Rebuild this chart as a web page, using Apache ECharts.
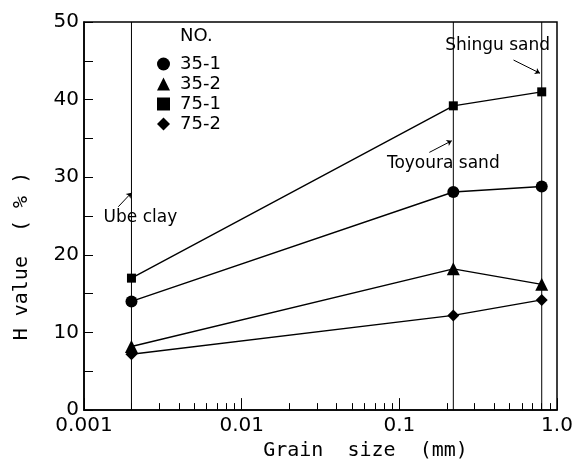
<!DOCTYPE html>
<html><head><meta charset="utf-8">
<script src="https://cdn.jsdelivr.net/npm/echarts@6/dist/echarts.min.js"></script>
<style>html,body{margin:0;padding:0;background:#fff}#c{width:577px;height:466px}</style>
</head><body><div id="c"></div>
<script>
const grainSizes = [0.002, 0.22, 0.8];
const soilNames = ['Ube clay', 'Toyoura sand', 'Shingu sand'];
const s35_1 = [14, 28.1, 28.8];
const s35_2 = [8.2, 18.2, 16.2];
const s75_1 = [17, 39.2, 41];
const s75_2 = [7.2, 12.2, 14.2];
const seriesNames = ['35-1', '35-2', '75-1', '75-2'];
const seriesSymbols = ['circle', 'triangle', 'rect', 'diamond'];
const xTickLabels = {'0.001':'0.001','0.01':'0.01','0.1':'0.1','1':'1.0'};
const yRange = [0, 50];
// annotation anchor points (data coords) for soil labels and arrows
const soilLabelPos = [[0.00228, 24.8], [0.19, 31.7], [0.42, 46.9]];
const arrowFrom = [[0.00165, 26.2], [0.155, 33.2], [0.53, 45.1]];
const arrowTo = [[0.002, 28.0], [0.215, 34.7], [0.78, 43.4]];

const mono = 'DejaVu Sans Mono';
const sans = 'DejaVu Sans';
const chart = echarts.init(document.getElementById('c'));
function mk(name, data, symbol, size) {
  return {
    name, type: 'line', symbol, symbolSize: size,
    data: grainSizes.map((g, i) => [g, data[i]]),
    lineStyle: {color: '#000', width: 1.4},
    itemStyle: {color: '#000'},
    z: 5
  };
}
const series = [
  mk(seriesNames[0], s35_1, seriesSymbols[0], 12),
  mk(seriesNames[1], s35_2, seriesSymbols[1], 13),
  mk(seriesNames[2], s75_1, seriesSymbols[2], 9),
  mk(seriesNames[3], s75_2, seriesSymbols[3], 12)
];
grainSizes.forEach((g, i) => {
  series.push({
    type: 'line', silent: true, symbol: 'none', z: 2,
    data: [[g, yRange[0]], [g, yRange[1]]],
    lineStyle: {color: '#000', width: 1}
  });
});
series.push({
  type: 'scatter', silent: true, symbolSize: 0, z: 6,
  data: soilNames.map((n, i) => ({value: soilLabelPos[i], name: n})),
  label: {show: true, position: 'inside', formatter: p => p.name,
    fontFamily: sans, fontSize: 17, color: '#000', opacity: 1},
  emphasis: {disabled: true},
  markLine: {
    silent: true, symbol: ['none', 'arrow'], symbolSize: 5,
    lineStyle: {color: '#000', type: 'solid', width: 1, curveness: 0.25},
    label: {show: false},
    data: arrowFrom.map((f, i) => [{coord: f}, {coord: arrowTo[i]}])
  }
});
chart.setOption({
  animation: false,
  backgroundColor: '#fff',
  grid: {left: 84, right: 20, top: 22, bottom: 54, show: true, borderColor: '#000', borderWidth: 1.5},
  legend: {
    orient: 'vertical', left: 152, top: 50, itemGap: 2, itemWidth: 13, itemHeight: 13,
    data: seriesNames.map((n, i) => ({name: n, icon: seriesSymbols[i]})),
    textStyle: {fontFamily: sans, fontSize: 18, color: '#000', padding: [0, 0, 0, 5]},
    itemStyle: {color: '#000'}
  },
  graphic: [{type: 'text', left: 180, top: 27, style: {text: 'NO.', font: '18px ' + sans, fill: '#000'}}],
  xAxis: {
    type: 'log', logBase: 10, min: 0.001, max: 1,
    name: 'Grain  size  (mm)', nameLocation: 'middle', nameGap: 30,
    nameTextStyle: {fontFamily: mono, fontSize: 20, color: '#000', padding: [0, 0, 0, 90]},
    axisLine: {lineStyle: {color: '#000', width: 1.5}},
    axisTick: {inside: true, length: 12, lineStyle: {color: '#000'}},
    minorTick: {show: true, splitNumber: 9, length: 7, lineStyle: {color: '#000'}},
    axisLabel: {fontFamily: sans, fontSize: 20, color: '#000', margin: 6,
      formatter: v => xTickLabels[String(+v.toPrecision(3))] || ''},
    splitLine: {show: false}
  },
  yAxis: {
    type: 'value', min: yRange[0], max: yRange[1], interval: 5,
    name: 'H value  ( % )', nameLocation: 'middle', nameGap: 52, nameRotate: 90,
    nameTextStyle: {fontFamily: mono, fontSize: 20, color: '#000', padding: [0, 80, 0, 0]},
    axisLine: {show: true, lineStyle: {color: '#000', width: 1.5}},
    axisTick: {inside: true, length: 9, lineStyle: {color: '#000'}},
    axisLabel: {fontFamily: sans, fontSize: 20, color: '#000', margin: 5,
      formatter: v => (v % 10 === 0 ? String(v) : '')},
    splitLine: {show: false}
  },
  series
});
</script></body></html>
